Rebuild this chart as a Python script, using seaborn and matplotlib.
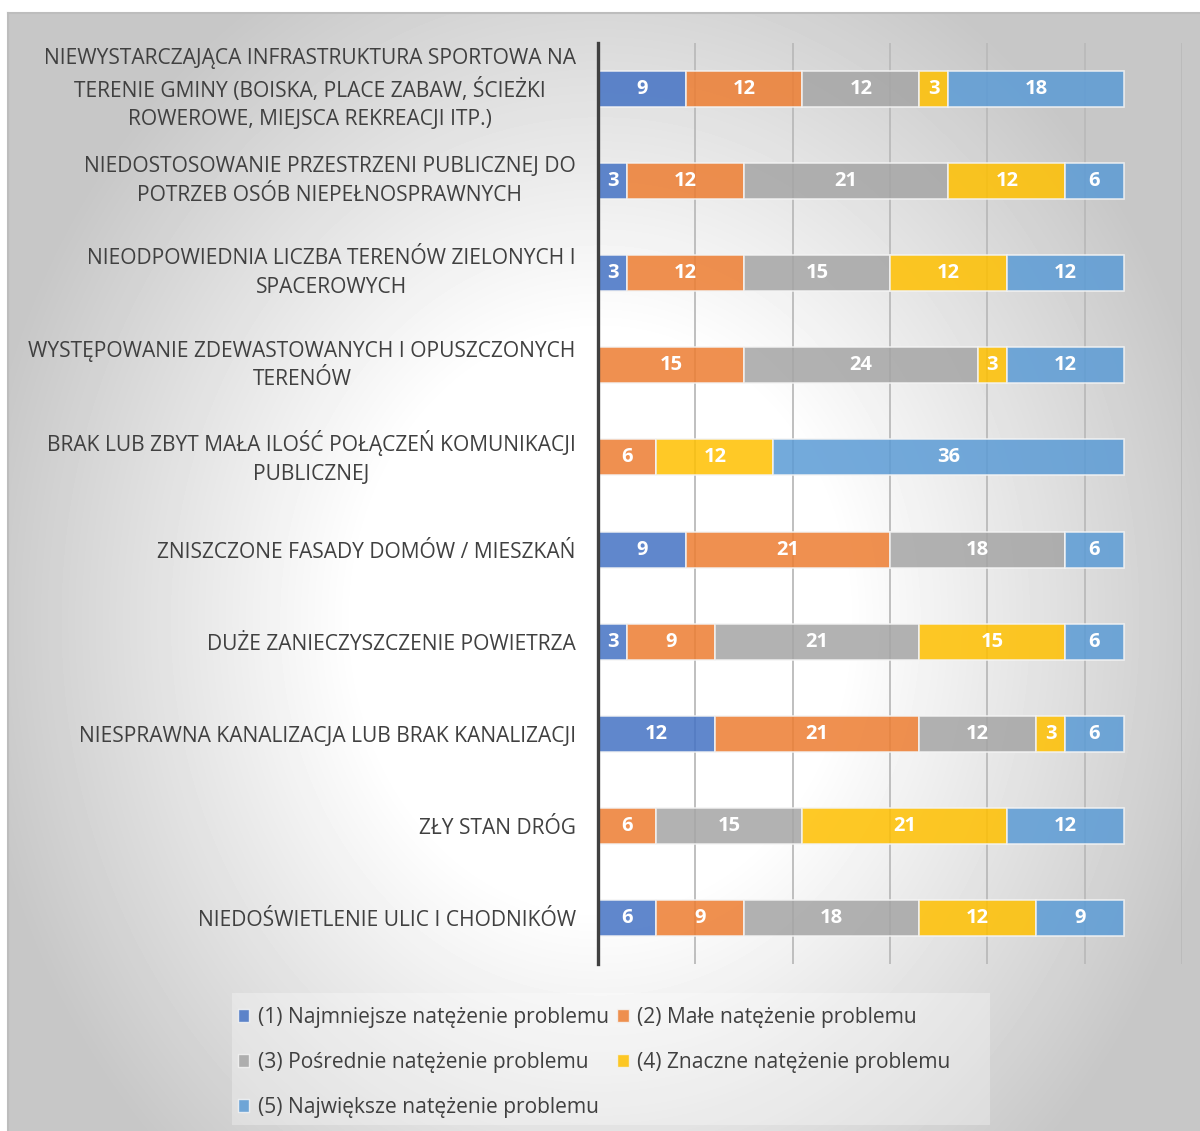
import textwrap
import numpy as np
import pandas as pd
import matplotlib.pyplot as plt
import seaborn as sns
from matplotlib.patches import Patch, Rectangle

# --- dane ---
categories = [
    'NIEWYSTARCZAJĄCA INFRASTRUKTURA SPORTOWA NA TERENIE GMINY (BOISKA, PLACE ZABAW, ŚCIEŻKI ROWEROWE, MIEJSCA REKREACJI ITP.)',
    'NIEDOSTOSOWANIE PRZESTRZENI PUBLICZNEJ DO POTRZEB OSÓB NIEPEŁNOSPRAWNYCH',
    'NIEODPOWIEDNIA LICZBA TERENÓW ZIELONYCH I SPACEROWYCH',
    'WYSTĘPOWANIE ZDEWASTOWANYCH I OPUSZCZONYCH TERENÓW',
    'BRAK LUB ZBYT MAŁA ILOŚĆ POŁĄCZEŃ KOMUNIKACJI PUBLICZNEJ',
    'ZNISZCZONE FASADY DOMÓW / MIESZKAŃ',
    'DUŻE ZANIECZYSZCZENIE POWIETRZA',
    'NIESPRAWNA KANALIZACJA LUB BRAK KANALIZACJI',
    'ZŁY STAN DRÓG',
    'NIEDOŚWIETLENIE ULIC I CHODNIKÓW',
]
level_1 = [9, 3, 3, 0, 0, 9, 3, 12, 0, 6]
level_2 = [12, 12, 12, 15, 6, 21, 9, 21, 6, 9]
level_3 = [12, 21, 15, 24, 0, 18, 21, 12, 15, 18]
level_4 = [3, 12, 12, 3, 12, 0, 15, 3, 21, 12]
level_5 = [18, 6, 12, 12, 36, 6, 6, 6, 12, 9]

series_names = [
    '(1) Najmniejsze natężenie problemu',
    '(2) Małe natężenie problemu',
    '(3) Pośrednie natężenie problemu',
    '(4) Znaczne natężenie problemu',
    '(5) Największe natężenie problemu',
]
colors = ['#4472C4', '#ED7D31', '#A5A5A5', '#FFC000', '#5B9BD5']

sns.set_theme(style='white')
plt.rcParams['font.family'] = ['Open Sans', 'DejaVu Sans']

W, H = 1200, 1131
fig = plt.figure(figsize=(W / 100, H / 100), dpi=100)
fig.patch.set_facecolor('white')

# tło z gradientem radialnym
bg = fig.add_axes([8 / W, 0, (W - 8) / W, (H - 13) / H])
yy, xx = np.mgrid[13:H, 8:W]
r = np.sqrt(((xx - 600) / 700.0) ** 2 + ((yy - 620) / 820.0) ** 2)
t = np.clip((r - 0.35) / 0.55, 0, 1)
v = 1 - (1 - 0.78) * t
bg.imshow(v, cmap='gray', vmin=0, vmax=1, aspect='auto', interpolation='bilinear')
bg.set_xticks([])
bg.set_yticks([])
for side in ['right', 'bottom']:
    bg.spines[side].set_visible(False)
for side in ['top', 'left']:
    bg.spines[side].set_color('#bdbdbd')
    bg.spines[side].set_linewidth(1.5)

# wykres
ax = fig.add_axes([598 / W, 1 - 964 / H, 584 / W, 921 / H])
ax.set_facecolor('none')

df = pd.DataFrame({
    'kategoria': [textwrap.fill(c, 45) for c in categories],
    'l1': level_1, 'l2': level_2, 'l3': level_3, 'l4': level_4, 'l5': level_5,
})
levels = ['l1', 'l2', 'l3', 'l4', 'l5']

cum = np.zeros(len(df))
for lvl, col in zip(levels, colors):
    sns.barplot(data=df, x=lvl, y='kategoria', orient='h', left=cum,
                color=col, saturation=1, alpha=0.85, width=0.39,
                edgecolor='#f4f4f4', linewidth=1.2, errorbar=None, ax=ax)
    cum = cum + df[lvl].to_numpy()

for cont, lvl in zip(ax.containers, levels):
    labels = [str(v) if v else '' for v in df[lvl]]
    ax.bar_label(cont, labels=labels, label_type='center', color='white',
                 fontsize=14.5, fontweight='bold')

ax.set_xlim(0, 60)
ax.set_xticks(range(10, 61, 10))
ax.xaxis.grid(True, color='#bababa', linewidth=1.3)
ax.yaxis.grid(False)
ax.set_axisbelow(True)
ax.tick_params(axis='x', length=0, labelbottom=False)
ax.tick_params(axis='y', length=0, pad=16, labelsize=15.1, labelcolor='#404040')
for lab in ax.get_yticklabels():
    lab.set_multialignment('center')
    lab.set_linespacing(1.48)
    if '\n' in lab.get_text():
        lab.set_verticalalignment('center')
ax.set_xlabel('')
ax.set_ylabel('')
for side in ['top', 'right', 'bottom']:
    ax.spines[side].set_visible(False)
ax.spines['left'].set_color('#404040')
ax.spines['left'].set_linewidth(2.4)

# legenda
fig.add_artist(Rectangle((232 / W, 1 - 1125 / H), 758 / W, 132 / H,
                         transform=fig.transFigure, facecolor='white',
                         alpha=0.3, edgecolor='none'))
handles = [Patch(facecolor=c, alpha=0.85, edgecolor='#f4f4f4') for c in colors]
order = [0, 2, 4, 1, 3]
fig.legend([handles[i] for i in order], [series_names[i] for i in order],
           loc='upper left', bbox_to_anchor=(223 / W, 1 - 992 / H), ncol=2,
           frameon=False, fontsize=15.1, labelcolor='#404040',
           handlelength=0.55, handleheight=0.55, handletextpad=0.4,
           columnspacing=0.4, labelspacing=1.15, borderpad=0.2)

fig.savefig('out.png', dpi=100)
